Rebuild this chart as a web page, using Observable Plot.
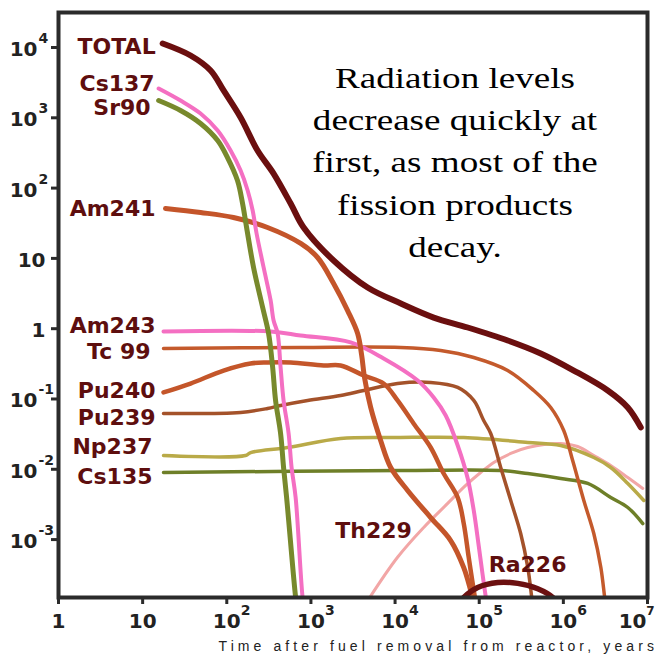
<!DOCTYPE html>
<html><head><meta charset="utf-8">
<script src="https://cdn.jsdelivr.net/npm/d3@7"></script>
<script src="https://cdn.jsdelivr.net/npm/@observablehq/plot@0.6"></script>
<style>html,body{margin:0;padding:0;background:#fff;}</style>
</head><body><div id="chart"></div>
<script>
// ---- tick values ----
const xTicks = [1, 10, 1e2, 1e3, 1e4, 1e5, 1e6, 1e7];
const yTicks = [1e-3, 1e-2, 1e-1, 1, 10, 1e2, 1e3, 1e4];

// ---- series: [years after removal, relative radioactivity] ----
const total = [[17.3,11400],[37.1,7700],[64.2,4710],[91.6,2450],[146,1010],[232,343],[360,161],[574,60.4],[819,27.5],[1860,9.33],[4720,3.85],[11700,2.28],[28800,1.44],[73000,1.04],[218000,0.68],[538000,0.444],[1.33e6,0.254],[3.37e6,0.132],[5.83e6,0.0757],[8.32e6,0.0394]];
const cs137 = [[15.5,2610],[28.2,1760],[48.8,1150],[77.9,659],[111,343],[146,178],[177,92.5],[203,48],[226,22.6],[274,7.43],[332,2.52],[360,1.31],[402,0.855],[436,0.281],[473,0.0953],[543,0.0323],[589,0.0106],[658,0.00397],[796,1.5e-4],[840,1e-4]];
const sr90 = [[15.5,1760],[28.2,1270],[48.8,830],[77.9,475],[102,272],[134,128],[154,60.4],[172,27.5],[208,7.43],[267,2.0],[314,0.855],[351,0.281],[380,0.0953],[436,0.0323],[473,0.0106],[514,0.00397],[658,1.5e-4],[690,1e-4]];
const am241 = [[18.7,51.3],[48.8,45.0],[120,38.2],[305,27.5],[755,16.3],[1200,10.3],[1860,4.40],[2730,1.81],[3590,0.855],[4010,0.416],[4350,0.196],[5130,0.0757],[6740,0.0257],[8870,0.0106],[14100,0.005],[26500,0.00206],[45800,0.00097],[65500,4.0e-4],[79200,1.89e-4],[86100,1.3e-4]];
const am243 = [[17.7,0.912],[332,0.912],[755,0.80],[2970,0.637],[7310,0.377],[18600,0.183],[28800,0.105],[40000,0.0582],[55500,0.0218],[73000,0.0074],[86100,0.0026],[98600,8.2e-4],[110000,3.1e-4],[120000,1.5e-4],[124000,1.2e-4]];
const tc99 = [[17.7,0.523],[755,0.541],[11700,0.541],[34800,0.49],[86100,0.389],[218000,0.254],[445000,0.132],[708000,0.0757],[1.01e6,0.0356],[1.29e6,0.0133],[1.75e6,0.0036],[2.30e6,0.00122],[2.79e6,4.0e-4],[3.10e6,1.5e-4],[3.19e6,1.2e-4]];
const pu240 = [[17.7,0.124],[37.1,0.166],[91.6,0.254],[192,0.32],[305,0.331],[574,0.331],[1416,0.30],[2250,0.30],[4240,0.216],[7310,0.166],[10700,0.0953],[16600,0.0449],[26500,0.0204],[37800,0.0087],[55500,0.00397],[65500,0.00169],[75000,5.6e-4],[86100,1.89e-4],[90800,1.3e-4]];
const pu239 = [[17.7,0.0622],[146,0.0643],[305,0.0733],[436,0.0809],[914,0.0953],[2250,0.112],[4240,0.132],[10700,0.166],[26500,0.172],[55500,0.146],[86100,0.0953],[113000,0.0494],[137000,0.0323],[180000,0.0106],[237000,0.0036],[311000,0.00122],[378000,4.0e-4],[421000,1.5e-4],[432000,1.2e-4]];
const np237 = [[17.7,0.0157],[167,0.0157],[192,0.0173],[528,0.0204],[2250,0.0274],[10700,0.0283],[65500,0.0283],[378000,0.0241],[931000,0.0218],[2.30e6,0.0147],[3.66e6,0.0106],[5.83e6,0.00628],[9.04e6,0.0036]];
const cs135 = [[17.7,0.009],[11700,0.00962],[180000,0.00962],[378000,0.0087],[931000,0.0074],[1.95e6,0.00628],[3.66e6,0.00397],[5.83e6,0.00286],[8.79e6,0.00169]];
const th229 = [[4430,1.2e-4],[10700,5.6e-4],[21900,0.00149],[42200,0.00327],[69100,0.00589],[104000,0.009],[149000,0.0125],[237000,0.0168],[378000,0.0204],[931000,0.0233],[1.48e6,0.0211],[2.30e6,0.0157],[3.66e6,0.0113],[5.83e6,0.00764],[8.79e6,0.00534]];
const ra226 = [[57100,1.2e-4],[65500,1.5e-4],[95900,2.08e-4],[166000,2.45e-4],[287000,2.38e-4],[496000,2.0e-4],[748000,1.5e-4],[835000,1.2e-4]];

const note = ["Radiation levels", "decrease quickly at", "first, as most of the", "fission products", "decay."];
const xTitle = "Time after fuel removal from reactor, years";

// ---- styles (drawing order: first = bottom) ----
const series = [
  {label: "Th229", data: th229, color: "#f2a6a6", w: 3,   dx: -30, dy: -73, anchor: "start"},
  {label: "Cs135", data: cs135, color: "#6e7f28", w: 3.5, dx: -11, dy: 4,   anchor: "end"},
  {label: "Np237", data: np237, color: "#b9aa48", w: 3.5, dx: -11, dy: -9,  anchor: "end"},
  {label: "Pu239", data: pu239, color: "#a4522a", w: 3.5, dx: -8,  dy: 4,   anchor: "end"},
  {label: "Tc 99", data: tc99,  color: "#c45a2c", w: 3.5, dx: -13, dy: 3,   anchor: "end"},
  {label: "Pu240", data: pu240, color: "#c4562a", w: 4.5, dx: -8,  dy: -1,  anchor: "end"},
  {label: "Am243", data: am243, color: "#f46fc2", w: 4,   dx: -8,  dy: -6,  anchor: "end"},
  {label: "Am241", data: am241, color: "#c4552a", w: 5,   dx: -10, dy: 0,   anchor: "end"},
  {label: "Sr90",  data: sr90,  color: "#78892c", w: 5,   dx: -8,  dy: 7,   anchor: "end"},
  {label: "Cs137", data: cs137, color: "#f46fc2", w: 4,   dx: -4,  dy: -5,  anchor: "end"},
  {label: "Ra226", data: ra226, color: "#6b1010", w: 5.5, dx: 30,  dy: -39, anchor: "start"},
  {label: "TOTAL", data: total, color: "#6b0f0f", w: 6,   dx: -7,  dy: 3,   anchor: "end"}
];

const labelColor = "#5e0e0e";
const tickColor = "#222";
const exp = d => Math.round(Math.log10(d));

const marks = [];
for (const s of series) {
  marks.push(Plot.line(s.data, {x: d => d[0], y: d => d[1], stroke: s.color, strokeWidth: s.w,
    curve: "catmull-rom", clip: true, strokeLinejoin: "round", strokeLinecap: "round"}));
}
for (const s of series) {
  marks.push(Plot.text([s.data[0]], {x: d => d[0], y: d => d[1], text: () => s.label,
    textAnchor: s.anchor, dx: s.dx, dy: s.dy, fill: labelColor,
    fontFamily: "DejaVu Sans", fontWeight: "bold", fontSize: 22}));
}

// frame and ticks
marks.push(Plot.frame({stroke: "#2b2b2b", strokeWidth: 4}));
marks.push(Plot.axisX({ticks: xTicks, tickSize: 7, strokeWidth: 3, stroke: "#2b2b2b", fill: "none", label: null}));
marks.push(Plot.axisY({ticks: yTicks, tickSize: 7, strokeWidth: 3, stroke: "#2b2b2b", fill: "none", label: null}));

// x tick labels (the last one is nudged left so it stays inside the page)
const tickFont = {fontFamily: "DejaVu Sans", fontWeight: "bold", fill: tickColor};
const xIn = xTicks.filter(d => exp(d) < 7);
const xLast = xTicks.filter(d => exp(d) === 7);
marks.push(Plot.text(xIn, {x: d => d, frameAnchor: "bottom", dy: 30, text: d => exp(d) === 0 ? "1" : "10",
  fontSize: 20, ...tickFont}));
marks.push(Plot.text(xIn.filter(d => exp(d) >= 2), {x: d => d, frameAnchor: "bottom", dy: 17, dx: 14,
  textAnchor: "start", text: d => String(exp(d)), fontSize: 14, ...tickFont}));
marks.push(Plot.text(xLast, {x: d => d, frameAnchor: "bottom", dy: 30, dx: -1, textAnchor: "end",
  text: () => "10", fontSize: 20, ...tickFont}));
marks.push(Plot.text(xLast, {x: d => d, frameAnchor: "bottom", dy: 17, dx: 7,
  textAnchor: "end", text: d => String(exp(d)), fontSize: 12, ...tickFont}));

// y tick labels
const yWithExp = yTicks.filter(d => exp(d) !== 0 && exp(d) !== 1);
const yPlain = yTicks.filter(d => exp(d) === 0 || exp(d) === 1);
marks.push(Plot.text(yWithExp, {y: d => d, frameAnchor: "left", dx: -21, dy: 2, textAnchor: "end",
  text: () => "10", fontSize: 20, ...tickFont}));
marks.push(Plot.text(yPlain, {y: d => d, frameAnchor: "left", dx: -13, dy: 2, textAnchor: "end",
  text: d => exp(d) === 0 ? "1" : "10", fontSize: 20, ...tickFont}));
marks.push(Plot.text(yWithExp, {y: d => d, frameAnchor: "left", dx: -20, dy: -9, textAnchor: "start",
  text: d => String(exp(d)), fontSize: 14, ...tickFont}));

// annotation
marks.push(Plot.text([note.join("\n")], {frameAnchor: "top", dx: 102, dy: 45, lineAnchor: "top",
  lineHeight: 1.46, text: d => d, fontFamily: "Liberation Serif", fontSize: 29, fill: "#000"}));

// x title
marks.push(Plot.text([xTitle], {frameAnchor: "bottom-left", dx: 160, dy: 53, textAnchor: "start",
  text: d => d, fontFamily: "Liberation Sans", fontSize: 14, fill: "#222"}));

const chart = Plot.plot({
  width: 657, height: 660,
  marginLeft: 58, marginRight: 10, marginTop: 12, marginBottom: 63,
  x: {type: "log", domain: [1, 1e7]},
  y: {type: "log", domain: [Math.pow(10, -3.824), Math.pow(10, 4.498)]},
  style: {background: "#fff"},
  marks
});
document.getElementById("chart").appendChild(chart);

// stretch the annotation horizontally as in the original; space out the x title
chart.querySelectorAll("text").forEach(el => {
  const txt = el.textContent;
  if (txt.startsWith("Radiation")) {
    const bb = el.getBBox();
    const cx = bb.x + bb.width / 2;
    const t = el.getAttribute("transform") || "";
    el.setAttribute("transform", `${t} translate(${cx},0) scale(1.28,1) translate(${-cx},0)`);
  } else if (txt === xTitle) {
    el.setAttribute("letter-spacing", "4.1");
  }
});
</script>
</body></html>
